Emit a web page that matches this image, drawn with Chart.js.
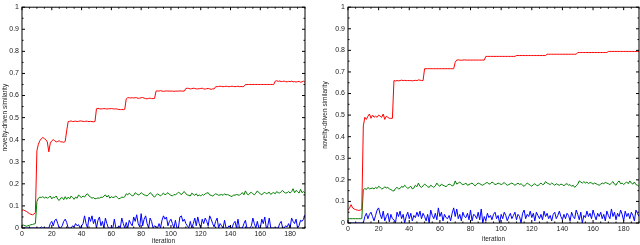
<!DOCTYPE html>
<html>
<head>
<meta charset="utf-8">
<script src="https://cdn.jsdelivr.net/npm/chart.js@4"></script>
<style>
  html, body { margin: 0; padding: 0; background: #fff; }
  body { width: 640px; height: 245px; position: relative; overflow: hidden; }
  canvas { position: absolute; top: 0; }
  #leftChart { left: 0; }
  #rightChart { left: 320px; }
</style>
</head>
<body>
<canvas id="leftChart" width="320" height="245"></canvas>
<canvas id="rightChart" width="320" height="245"></canvas>
<script>
// iteration index 0..190 (x categories)
const iterations = Array.from({ length: 191 }, (_, i) => i);
const xTicks = [0, 20, 40, 60, 80, 100, 120, 140, 160, 180];
const yTicks = [0, 0.1, 0.2, 0.3, 0.4, 0.5, 0.6, 0.7, 0.8, 0.9, 1];
const yTickLabels = ['0', '0.1', '0.2', '0.3', '0.4', '0.5', '0.6', '0.7', '0.8', '0.9', '1'];

// Left panel
const leftRed = [
  0.08,0.082,0.078,0.075,0.07,0.065,0.062,0.06,0.063,0.07,
  0.35,0.38,0.395,0.405,0.41,0.405,0.40,0.39,0.345,0.385,
  0.395,0.40,0.395,0.39,0.392,0.395,0.39,0.39,0.388,0.392,
  0.44,0.482,0.483,0.485,0.482,0.483,0.484,0.482,0.483,0.485,
  0.484,0.483,0.482,0.484,0.483,0.482,0.483,0.482,0.481,0.482,
  0.54,0.542,0.54,0.539,0.54,0.541,0.54,0.539,0.54,0.54,
  0.541,0.54,0.539,0.54,0.538,0.537,0.536,0.537,0.536,0.538,
  0.585,0.59,0.59,0.589,0.59,0.589,0.59,0.59,0.587,0.588,
  0.59,0.591,0.588,0.586,0.585,0.587,0.588,0.586,0.586,0.587,
  0.62,0.621,0.62,0.622,0.62,0.619,0.62,0.621,0.62,0.62,
  0.62,0.62,0.619,0.62,0.62,0.62,0.621,0.62,0.62,0.62,
  0.632,0.633,0.632,0.63,0.631,0.633,0.632,0.63,0.63,0.631,
  0.632,0.633,0.63,0.629,0.631,0.632,0.63,0.628,0.63,0.63,
  0.64,0.64,0.641,0.642,0.641,0.64,0.641,0.642,0.641,0.64,
  0.641,0.642,0.641,0.64,0.641,0.642,0.64,0.641,0.64,0.641,
  0.65,0.65,0.65,0.65,0.65,0.65,0.65,0.65,0.65,0.65,
  0.65,0.65,0.65,0.65,0.65,0.65,0.65,0.65,0.65,0.65,
  0.665,0.667,0.664,0.666,0.663,0.664,0.665,0.663,0.662,0.664,
  0.663,0.665,0.662,0.663,0.661,0.663,0.664,0.66,0.662,0.665,0.66
];
const leftGreen = [
  0.012,0.013,0.01,0.008,0.01,0.012,0.015,0.016,0.018,0.02,
  0.12,0.135,0.14,0.138,0.142,0.136,0.14,0.135,0.138,0.145,
  0.132,0.14,0.138,0.145,0.13,0.125,0.135,0.138,0.128,0.142,
  0.13,0.14,0.132,0.145,0.138,0.13,0.14,0.135,0.15,0.142,
  0.138,0.145,0.14,0.15,0.155,0.145,0.14,0.135,0.138,0.132,
  0.134,0.136,0.135,0.14,0.138,0.145,0.15,0.14,0.148,0.135,
  0.142,0.138,0.14,0.145,0.138,0.132,0.135,0.14,0.138,0.142,
  0.155,0.15,0.158,0.152,0.145,0.148,0.16,0.155,0.15,0.152,
  0.16,0.155,0.15,0.148,0.145,0.152,0.16,0.155,0.145,0.14,
  0.148,0.155,0.15,0.145,0.152,0.158,0.15,0.155,0.16,0.152,
  0.148,0.145,0.152,0.15,0.155,0.162,0.158,0.15,0.16,0.165,
  0.155,0.15,0.148,0.145,0.158,0.152,0.148,0.155,0.145,0.15,
  0.145,0.152,0.148,0.155,0.158,0.16,0.15,0.148,0.145,0.15,
  0.155,0.152,0.148,0.15,0.152,0.148,0.155,0.15,0.152,0.148,
  0.145,0.142,0.15,0.148,0.152,0.15,0.148,0.155,0.16,0.15,
  0.168,0.155,0.15,0.158,0.162,0.155,0.15,0.158,0.168,0.16,
  0.155,0.15,0.158,0.162,0.155,0.158,0.162,0.152,0.158,0.16,
  0.155,0.165,0.16,0.158,0.165,0.17,0.162,0.158,0.16,0.165,
  0.158,0.165,0.178,0.16,0.17,0.165,0.158,0.175,0.16,0.165,0.158
];
const leftBlue = [
  0,0,0,0,0,0,0,0,0,0,
  0,0,0,0.005,0,0,0,0,0,0.02,
  0.03,0.01,0.035,0.04,0.02,0,0,0.01,0.03,0.04,
  0.025,0,0,0,0.01,0.005,0.02,0.01,0.015,0,
  0.01,0.02,0.055,0.02,0,0.05,0.03,0.055,0.02,0.04,
  0,0.035,0.05,0.01,0.03,0,0.045,0.02,0,0,
  0,0,0.04,0,0,0.01,0,0.045,0.02,0,
  0.025,0,0.035,0.02,0.01,0.05,0.03,0.06,0.02,0.005,
  0.065,0.01,0.04,0.055,0.02,0,0.045,0.03,0,0.01,
  0.005,0,0.02,0,0.035,0.055,0.04,0.05,0.01,0.03,
  0.04,0.02,0,0.035,0,0,0.05,0.055,0.03,0.04,
  0.02,0.01,0,0.03,0,0.02,0.045,0.01,0.05,0.02,
  0,0.04,0.02,0.045,0.03,0.01,0.055,0.04,0.02,0.005,
  0.03,0.045,0,0.02,0.01,0,0.035,0,0,0.01,
  0,0,0.02,0.03,0,0.04,0,0,0,0.02,
  0.035,0,0,0,0.01,0.045,0.02,0,0.03,0,
  0,0.04,0.02,0.05,0,0.01,0.045,0,0,0,
  0,0,0,0.02,0.03,0,0,0.01,0.005,0.02,
  0,0.045,0.03,0.02,0.04,0,0.01,0.035,0.03,0.04,0.06
];

// Right panel
const rightRed = [
  0.06,0.07,0.085,0.07,0.065,0.062,0.06,0.058,0.06,0.062,
  0.45,0.49,0.48,0.495,0.505,0.485,0.5,0.49,0.495,0.49,
  0.5,0.495,0.49,0.505,0.48,0.495,0.49,0.485,0.485,0.485,
  0.66,0.658,0.66,0.659,0.66,0.662,0.66,0.661,0.66,0.66,
  0.66,0.66,0.659,0.66,0.661,0.66,0.663,0.662,0.66,0.66,
  0.715,0.715,0.715,0.715,0.715,0.715,0.715,0.715,0.715,0.715,
  0.715,0.715,0.715,0.715,0.715,0.715,0.715,0.715,0.715,0.715,
  0.745,0.755,0.756,0.755,0.754,0.755,0.756,0.755,0.755,0.755,
  0.755,0.755,0.755,0.755,0.755,0.755,0.755,0.755,0.755,0.755,
  0.772,0.772,0.772,0.772,0.772,0.772,0.772,0.772,0.772,0.772,
  0.772,0.772,0.772,0.772,0.772,0.772,0.772,0.772,0.772,0.772,
  0.776,0.776,0.776,0.776,0.776,0.776,0.776,0.776,0.776,0.776,
  0.776,0.776,0.776,0.776,0.776,0.776,0.776,0.776,0.776,0.776,
  0.782,0.782,0.782,0.782,0.782,0.782,0.782,0.782,0.782,0.782,
  0.782,0.782,0.782,0.782,0.782,0.782,0.782,0.782,0.782,0.782,
  0.79,0.79,0.79,0.79,0.79,0.79,0.79,0.79,0.79,0.79,
  0.79,0.79,0.79,0.79,0.79,0.79,0.79,0.79,0.79,0.79,
  0.795,0.795,0.795,0.795,0.795,0.795,0.795,0.795,0.795,0.795,
  0.795,0.795,0.795,0.795,0.795,0.795,0.795,0.795,0.795,0.795,0.795
];
const rightGreen = [
  0.02,0.02,0.02,0.02,0.02,0.02,0.02,0.02,0.02,0.02,
  0.155,0.16,0.155,0.165,0.158,0.16,0.162,0.158,0.165,0.16,
  0.17,0.165,0.158,0.16,0.168,0.162,0.165,0.158,0.155,0.15,
  0.148,0.16,0.165,0.158,0.16,0.17,0.165,0.175,0.168,0.16,
  0.165,0.17,0.158,0.162,0.175,0.168,0.185,0.17,0.165,0.172,
  0.18,0.175,0.168,0.165,0.175,0.17,0.165,0.172,0.185,0.175,
  0.17,0.18,0.175,0.172,0.168,0.175,0.18,0.178,0.172,0.175,
  0.195,0.18,0.185,0.19,0.182,0.178,0.18,0.185,0.175,0.178,
  0.182,0.185,0.178,0.172,0.18,0.185,0.182,0.178,0.175,0.18,
  0.185,0.188,0.18,0.182,0.19,0.185,0.178,0.18,0.185,0.182,
  0.178,0.182,0.188,0.18,0.175,0.178,0.182,0.185,0.18,0.175,
  0.18,0.185,0.178,0.182,0.175,0.17,0.178,0.185,0.18,0.175,
  0.17,0.178,0.182,0.175,0.172,0.18,0.185,0.178,0.18,0.192,
  0.185,0.182,0.178,0.185,0.18,0.175,0.182,0.178,0.175,0.18,
  0.178,0.172,0.18,0.182,0.175,0.178,0.17,0.175,0.165,0.172,
  0.18,0.195,0.19,0.185,0.192,0.185,0.19,0.182,0.188,0.185,
  0.18,0.185,0.182,0.178,0.175,0.18,0.185,0.182,0.188,0.185,
  0.182,0.178,0.185,0.192,0.18,0.175,0.188,0.195,0.182,0.185,
  0.178,0.185,0.19,0.182,0.195,0.185,0.18,0.19,0.178,0.175,0.17
];
const rightBlue = [
  0,0,0,0,0,0,0,0,0,0,
  0,0.03,0.045,0.02,0.04,0.05,0.03,0.01,0.035,0.06,
  0.07,0.04,0.02,0.055,0.01,0.03,0.045,0.005,0.04,0.02,
  0.015,0,0.05,0.03,0.055,0.02,0.04,0,0.03,0.05,
  0.02,0.045,0.01,0.035,0.025,0.05,0.03,0.055,0.02,0.045,
  0.03,0.01,0.04,0,0.06,0.035,0.02,0.045,0.015,0.07,
  0.03,0.05,0.01,0.04,0.025,0.02,0.035,0.01,0.045,0.07,
  0.03,0.065,0.02,0.04,0.01,0.05,0.03,0.025,0.045,0.015,
  0.06,0.01,0.04,0.035,0.02,0.05,0.015,0.065,0,0.03,
  0.01,0.045,0.025,0.035,0.015,0.04,0.05,0.02,0.035,0,
  0.04,0.02,0.05,0.035,0.01,0.03,0.045,0.02,0.035,0.05,
  0.015,0.04,0.03,0,0.045,0.06,0.02,0.04,0.03,0.055,
  0.025,0.045,0.01,0.05,0.035,0.02,0.04,0.015,0.055,0.03,
  0.045,0.02,0.035,0.01,0.04,0.05,0.02,0.035,0.055,0.03,
  0.015,0.04,0.02,0.045,0.035,0.01,0.05,0.03,0.02,0.06,
  0.04,0.015,0.05,0,0.035,0.025,0.055,0.03,0.045,0.02,
  0.06,0.035,0.015,0.045,0.03,0.05,0.02,0.04,0.01,0.055,
  0.035,0.02,0.065,0.03,0.05,0.015,0.045,0.03,0.06,0.04,
  0.01,0.055,0.03,0.045,0.02,0.05,0.035,0.01,0.06,0.045,0.03
];

const textColor = '#222';
const tickFont = { family: 'Liberation Sans', size: 7 };

// box with inward major/minor ticks, matlab style
const boxTicks = {
  id: 'boxTicks',
  afterDatasetsDraw(chart) {
    const { ctx, chartArea: a, scales: { x, y } } = chart;
    ctx.save();
    ctx.strokeStyle = '#000';
    ctx.lineWidth = 1;
    ctx.strokeRect(a.left, a.top, a.right - a.left, a.bottom - a.top);
    for (let v = 0; v <= 190; v += 5) {
      const px = x.getPixelForValue(v);
      const len = v % 20 === 0 ? 3 : 1.5;
      ctx.beginPath();
      ctx.moveTo(px, a.bottom); ctx.lineTo(px, a.bottom - len);
      ctx.moveTo(px, a.top); ctx.lineTo(px, a.top + len);
      ctx.stroke();
    }
    for (let i = 0; i <= 20; i++) {
      const py = y.getPixelForValue(i * 0.05);
      const len = i % 2 === 0 ? 3 : 1.5;
      ctx.beginPath();
      ctx.moveTo(a.left, py); ctx.lineTo(a.left + len, py);
      ctx.moveTo(a.right, py); ctx.lineTo(a.right - len, py);
      ctx.stroke();
    }
    ctx.restore();
  }
};

function makeChart(id, red, green, blue, box) {
  const pts = arr => arr.map((v, i) => ({ x: iterations[i], y: v }));
  const line = (data, color) => ({
    data: pts(data),
    borderColor: color,
    borderWidth: 1,
    pointRadius: 0,
    tension: 0
  });
  return new Chart(document.getElementById(id), {
    type: 'line',
    data: {
      datasets: [
        line(red, '#ff0000'),
        line(green, '#008000'),
        line(blue, '#0000ff')
      ]
    },
    options: {
      responsive: false,
      animation: false,
      devicePixelRatio: 1,
      layout: { padding: { top: box.top, right: box.right, left: 0, bottom: 0 } },
      plugins: { legend: { display: false }, tooltip: { enabled: false } },
      scales: {
        x: {
          type: 'linear',
          min: 0,
          max: 190,
          afterBuildTicks: s => { s.ticks = xTicks.map(v => ({ value: v })); },
          afterFit: s => { s.height = box.xh; },
          grid: { display: false, drawTicks: false },
          border: { display: false },
          ticks: { color: textColor, font: tickFont, padding: 2, maxRotation: 0, autoSkip: false },
          title: {
            display: true,
            text: 'iteration',
            color: textColor,
            font: { family: 'Liberation Sans', size: 6.5 },
            padding: { top: 0, bottom: box.titlePad }
          }
        },
        y: {
          min: 0,
          max: 1,
          afterBuildTicks: s => { s.ticks = yTicks.map(v => ({ value: v })); },
          afterFit: s => { s.width = box.yw; },
          grid: { display: false, drawTicks: false },
          border: { display: false },
          ticks: {
            color: textColor,
            font: tickFont,
            padding: 3,
            autoSkip: false,
            callback: (v, i) => yTickLabels[i]
          },
          title: {
            display: true,
            text: 'novelty-driven similarity',
            color: textColor,
            font: { family: 'Liberation Sans', size: 6.5 },
            padding: { top: 1, bottom: 0 }
          }
        }
      }
    },
    plugins: [boxTicks]
  });
}

makeChart('leftChart', leftRed, leftGreen, leftBlue,
  { top: 5, right: 15, yw: 22, xh: 17, titlePad: 0 });
makeChart('rightChart', rightRed, rightGreen, rightBlue,
  { top: 3, right: 1, yw: 28, xh: 22, titlePad: 2 });
</script>
</body>
</html>
